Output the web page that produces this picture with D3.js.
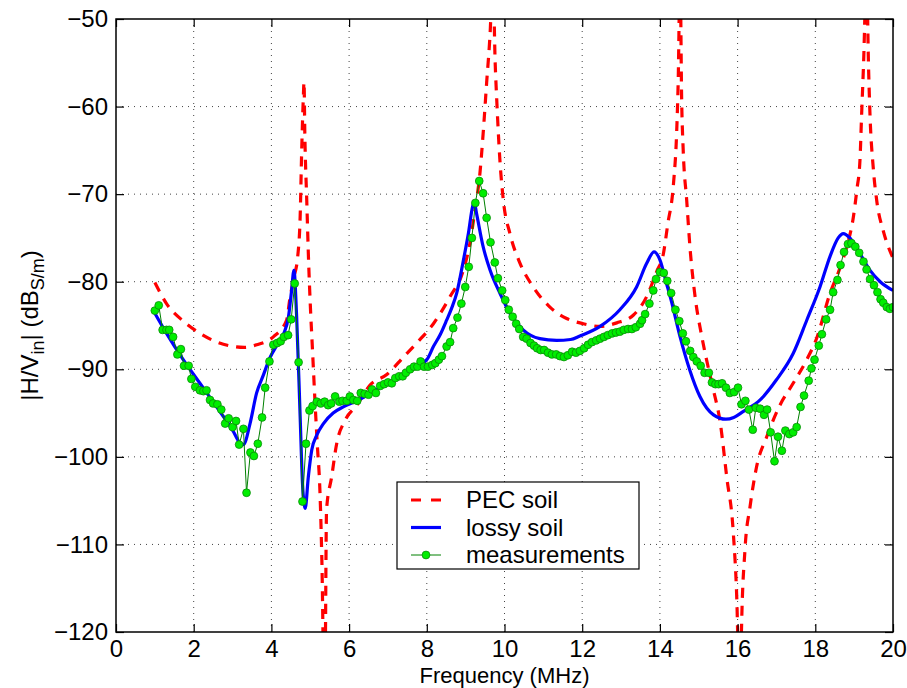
<!DOCTYPE html>
<html><head><meta charset="utf-8">
<script src="https://cdnjs.cloudflare.com/ajax/libs/d3/7.8.5/d3.min.js"></script>
<style>
body{margin:0;background:#fff}
text{font-family:"Liberation Sans",Arial,Helvetica,sans-serif;fill:#000}
</style>
</head><body>
<svg id="chart" width="907" height="688"></svg>
<script>
// ---------- data ----------
const xTicks = [0,2,4,6,8,10,12,14,16,18,20];
const yTicks = [-120,-110,-100,-90,-80,-70,-60,-50];
const seriesNames = ["PEC soil","lossy soil","measurements"];

// PEC soil (red dashed)
const pecFreq = [1.0,1.3,1.73,2.16,2.6,3.02,3.3,3.62,4.05,4.39,4.48,4.58,4.68,4.74,4.78,4.82,4.84,4.86,4.91,4.96,5.0,5.06,5.12,5.18,5.25,5.30,5.37,5.42,5.55,5.68,5.9,6.2,6.54,6.97,7.40,7.74,8.17,8.6,8.94,9.11,9.24,9.37,9.45,9.54,9.63,9.70,9.76,9.8,9.88,9.97,10.14,10.4,10.74,11.17,11.6,12.03,12.46,12.89,13.32,13.66,13.92,14.09,14.2,14.35,14.43,14.47,14.52,14.56,14.6,14.69,14.78,14.9,15.08,15.2,15.38,15.55,15.72,15.89,15.98,16.06,16.1,16.19,16.32,16.49,16.75,17.09,17.43,17.78,18.04,18.38,18.63,18.81,18.98,19.07,19.15,19.19,19.24,19.32,19.37,19.41,19.49,19.58,19.75,19.97,20.0];
const pecDb = [-80.1,-82.5,-84.5,-85.9,-86.9,-87.4,-87.5,-87.2,-86.3,-84.4,-81.8,-79.5,-77.0,-72.6,-65.0,-59.2,-57.2,-63.0,-70.7,-78.0,-82.5,-88.0,-93.5,-98.5,-104.0,-112.0,-130,-106.0,-102.3,-98.5,-95.8,-94.1,-91.8,-90.6,-88.6,-87.0,-84.8,-81.7,-78.7,-75.6,-71.8,-67.5,-63.1,-57.3,-51.6,-45,-55,-59.2,-66.0,-70.7,-74.5,-77.9,-80.6,-82.9,-84.2,-84.8,-85.1,-84.7,-83.8,-81.7,-78.8,-76.8,-73.5,-68.8,-63.1,-57.3,-45,-59.2,-65.0,-70.7,-76.4,-81.5,-86.3,-88.9,-92.4,-96.0,-102.3,-108.7,-116.3,-130,-119.8,-110.6,-105.7,-101.1,-97.7,-94.1,-91.6,-88.9,-86.4,-81.3,-78.5,-76.0,-72.6,-69.5,-66.1,-61.2,-55.4,-45,-55.4,-61.2,-66.9,-70.7,-74.2,-77.0,-77.3];

// lossy soil (blue solid)
const lossyFreq = [1.0,1.3,1.73,2.16,2.59,3.02,3.19,3.28,3.45,3.62,3.79,3.96,4.15,4.31,4.44,4.52,4.58,4.65,4.74,4.80,4.87,4.95,5.04,5.17,5.34,5.59,5.85,6.2,6.6,7.0,7.31,7.6,8.0,8.17,8.35,8.51,8.65,8.77,8.94,9.07,9.18,9.22,9.28,9.45,9.63,9.88,10.14,10.48,10.91,11.34,11.7,11.94,12.46,12.97,13.40,13.66,13.85,14.0,14.17,14.30,14.52,14.77,15.03,15.38,15.70,15.9,16.15,16.58,17.0,17.43,17.78,18.12,18.38,18.59,18.72,18.89,19.15,19.41,19.67,20.0];
const lossyDb = [-83.6,-85.9,-88.9,-91.6,-94.3,-97.1,-98.4,-98.6,-96.2,-92.7,-90.7,-88.7,-87.2,-86.0,-84.0,-81.0,-78.7,-84.0,-95.4,-103.0,-105.9,-102.3,-99.2,-97.5,-96.2,-95.0,-94.3,-93.6,-92.6,-91.6,-90.8,-89.9,-88.9,-87.4,-86.0,-84.4,-82.9,-81.3,-77.6,-74.5,-71.4,-70.9,-72.2,-76.0,-78.7,-81.3,-83.6,-85.5,-86.5,-86.7,-86.6,-86.2,-85.1,-83.2,-80.6,-77.9,-76.6,-77.5,-80.2,-82.3,-86.3,-90.1,-93.1,-95.2,-95.7,-95.5,-94.8,-93.5,-91.2,-88.2,-84.4,-80.6,-77.1,-75.0,-74.5,-75.0,-76.8,-78.7,-80.0,-81.0];

// measurements (green markers)
const measFreq = [1.00,1.10,1.20,1.30,1.37,1.47,1.58,1.67,1.75,1.87,1.94,2.04,2.16,2.25,2.33,2.42,2.50,2.61,2.71,2.81,2.90,3.00,3.09,3.17,3.28,3.36,3.46,3.55,3.65,3.76,3.84,3.95,4.05,4.15,4.24,4.32,4.43,4.51,4.60,4.70,4.80,4.89,4.98,5.06,5.17,5.27,5.37,5.46,5.54,5.64,5.75,5.83,5.94,6.02,6.11,6.21,6.30,6.40,6.50,6.59,6.69,6.80,6.90,7.00,7.10,7.19,7.29,7.38,7.46,7.57,7.67,7.76,7.84,7.93,8.03,8.14,8.22,8.31,8.39,8.51,8.60,8.68,8.79,8.89,8.99,9.08,9.16,9.25,9.35,9.45,9.54,9.64,9.75,9.83,9.94,10.02,10.11,10.21,10.30,10.38,10.48,10.57,10.67,10.76,10.84,10.93,11.02,11.12,11.22,11.33,11.43,11.53,11.63,11.74,11.84,11.94,12.05,12.15,12.25,12.36,12.46,12.56,12.66,12.77,12.87,12.97,13.07,13.18,13.28,13.38,13.49,13.54,13.62,13.73,13.83,13.90,14.00,14.10,14.19,14.29,14.40,14.50,14.59,14.67,14.78,14.86,14.95,15.05,15.15,15.26,15.34,15.43,15.51,15.60,15.70,15.80,15.91,16.01,16.10,16.20,16.29,16.39,16.47,16.58,16.68,16.76,16.85,16.95,17.04,17.14,17.23,17.33,17.43,17.52,17.62,17.71,17.83,17.90,17.98,18.09,18.17,18.28,18.38,18.46,18.57,18.65,18.74,18.84,18.93,19.03,19.13,19.24,19.32,19.41,19.51,19.60,19.68,19.75,19.84,19.92,20.00];
const measDb = [-83.3,-82.7,-85.5,-85.5,-85.5,-86.3,-88.3,-87.7,-89.6,-89.6,-91.1,-92.0,-92.4,-92.5,-92.4,-93.5,-93.9,-94.0,-94.6,-96.2,-95.6,-96.6,-95.9,-98.6,-96.8,-104.1,-99.5,-99.9,-98.5,-95.5,-92.1,-89.1,-87.2,-87.0,-86.8,-86.3,-86.1,-84.3,-80.2,-89.2,-105.1,-98.5,-94.7,-94.2,-93.7,-93.9,-93.7,-94.1,-93.9,-93.1,-93.7,-93.6,-93.6,-93.1,-93.5,-93.6,-92.7,-92.8,-92.9,-92.3,-92.7,-91.9,-91.7,-91.5,-91.6,-91.0,-90.8,-90.8,-90.4,-90.0,-89.7,-89.7,-89.1,-89.7,-89.7,-89.5,-89.3,-88.9,-88.5,-87.4,-86.9,-85.3,-84.1,-82.5,-80.6,-78.3,-75.0,-71.0,-68.5,-69.9,-72.7,-75.5,-77.8,-79.6,-81.0,-82.1,-83.2,-84.0,-84.8,-85.4,-86.3,-86.5,-87.0,-87.3,-87.6,-87.8,-87.8,-88.1,-88.3,-88.3,-88.5,-88.6,-88.4,-88.0,-88.1,-87.9,-87.6,-87.2,-86.9,-86.7,-86.5,-86.3,-86.1,-85.9,-85.8,-85.7,-85.5,-85.4,-85.4,-85.2,-84.8,-84.4,-83.7,-82.5,-81.0,-79.7,-78.9,-79.0,-79.9,-81.3,-83.2,-84.5,-85.9,-86.8,-87.9,-88.6,-89.1,-89.6,-90.4,-90.4,-91.5,-91.7,-91.7,-91.6,-92.1,-92.7,-92.6,-92.1,-94.0,-93.6,-94.6,-96.9,-94.4,-94.5,-95.2,-94.6,-97.2,-100.5,-97.7,-99.3,-97.0,-97.4,-97.2,-96.6,-94.3,-93.0,-91.3,-89.9,-88.9,-87.3,-86.0,-84.3,-83.2,-81.2,-79.8,-78.1,-76.6,-75.7,-75.6,-76.0,-76.7,-77.7,-78.6,-79.7,-80.4,-81.2,-82.0,-82.4,-82.9,-83.1,-82.9];

// ---------- layout ----------
const W = 907, H = 688;
const m = {left:116, right:893, top:19, bottom:632};
const FONT = 24;

const svg = d3.select("#chart");
const x = d3.scaleLinear().domain([0,20]).range([m.left, m.right]);
const y = d3.scaleLinear().domain([-120,-50]).range([m.bottom, m.top]);

svg.append("defs").append("clipPath").attr("id","plotclip")
  .append("rect").attr("x",m.left).attr("y",m.top)
  .attr("width",m.right-m.left).attr("height",m.bottom-m.top);

// grid
const grid = svg.append("g");
grid.selectAll(".gx").data(xTicks.slice(1,-1)).enter().append("line")
  .attr("x1",d=>x(d)).attr("x2",d=>x(d)).attr("y1",m.top).attr("y2",m.bottom)
  .attr("stroke","#444").attr("stroke-width",1).attr("stroke-dasharray","1,5");
grid.selectAll(".gy").data(yTicks.slice(1,-1)).enter().append("line")
  .attr("y1",d=>y(d)).attr("y2",d=>y(d)).attr("x1",m.left).attr("x2",m.right)
  .attr("stroke","#444").attr("stroke-width",1).attr("stroke-dasharray","1,5");

// data
const plot = svg.append("g").attr("clip-path","url(#plotclip)");
const pec = pecFreq.map((f,i)=>[f,pecDb[i]]);
const lossy = lossyFreq.map((f,i)=>[f,lossyDb[i]]);
const meas = measFreq.map((f,i)=>[f,measDb[i]]);

const smooth = d3.line().x(d=>x(d[0])).y(d=>y(d[1])).curve(d3.curveMonotoneX);
const straight = d3.line().x(d=>x(d[0])).y(d=>y(d[1]));

plot.append("path").attr("d",smooth(pec)).attr("fill","none")
  .attr("stroke","#ff0000").attr("stroke-width",3.2).attr("stroke-dasharray","10,8");
plot.append("path").attr("d",smooth(lossy)).attr("fill","none")
  .attr("stroke","#0000ff").attr("stroke-width",3.2);
plot.append("path").attr("d",straight(meas)).attr("fill","none")
  .attr("stroke","#008000").attr("stroke-width",1);
plot.selectAll(".mk").data(meas).enter().append("circle")
  .attr("cx",d=>x(d[0])).attr("cy",d=>y(d[1])).attr("r",3.9)
  .attr("fill","#00ee00").attr("stroke","#0a8a0a").attr("stroke-width",0.8);

// axes box + ticks (inward, all sides)
const ax = svg.append("g");
const tl = 8;
const axB = d3.axisBottom(x).tickValues(xTicks).tickSize(-tl).tickPadding(8).tickFormat(d3.format("d"));
const axT = d3.axisTop(x).tickValues(xTicks).tickSize(-tl).tickFormat("");
const fmtY = d => (d<0?"\u2212":"") + Math.abs(d);
const axL = d3.axisLeft(y).tickValues(yTicks).tickSize(-tl).tickPadding(8).tickFormat(fmtY);
const axR = d3.axisRight(y).tickValues(yTicks).tickSize(-tl).tickFormat("");
[[axB,`translate(0,${m.bottom})`],[axT,`translate(0,${m.top})`],[axL,`translate(${m.left},0)`],[axR,`translate(${m.right},0)`]]
  .forEach(([a,t])=>{
    const g = ax.append("g").attr("transform",t).call(a);
    g.select(".domain").remove();
    g.selectAll("line").attr("stroke","#000").attr("stroke-width",1.2);
    g.selectAll("text").style("font-size",FONT+"px").attr("fill","#000")
      .style("font-family",'"Liberation Sans",Arial,sans-serif');
  });
ax.append("rect").attr("x",m.left).attr("y",m.top).attr("width",m.right-m.left)
  .attr("height",m.bottom-m.top).attr("fill","none").attr("stroke","#000").attr("stroke-width",1.5);

// axis labels
svg.append("text").attr("x",(m.left+m.right)/2).attr("y",683).attr("text-anchor","middle")
  .style("font-size","22px").text("Frequency (MHz)");

const yl = svg.append("text").attr("transform",`translate(38,${(m.top+m.bottom)/2}) rotate(-90)`)
  .attr("text-anchor","middle").style("font-size",FONT+"px");
yl.append("tspan").text("|H/V");
yl.append("tspan").attr("dy",6).style("font-size","18px").text("in");
yl.append("tspan").attr("dy",-6).text("| (dB");
yl.append("tspan").attr("dy",6).style("font-size","18px").text("S/m");
yl.append("tspan").attr("dy",-6).text(")");

// legend
const lg = svg.append("g");
const lx = 397, ly = 482, lw = 242, lh = 87;
lg.append("rect").attr("x",lx).attr("y",ly).attr("width",lw).attr("height",lh)
  .attr("fill","#fff").attr("stroke","#000").attr("stroke-width",1.2);
const rows = [500, 527.5, 555];
const styles = [
  {stroke:"#ff0000", dash:"10,10", w:3.2},
  {stroke:"#0000ff", dash:null, w:3.2},
  {stroke:"#008000", dash:null, w:1}
];
seriesNames.forEach((name,i)=>{
  const s = styles[i];
  const ln = lg.append("line").attr("x1",411).attr("x2",441).attr("y1",rows[i]).attr("y2",rows[i])
    .attr("stroke",s.stroke).attr("stroke-width",s.w);
  if (s.dash) ln.attr("stroke-dasharray",s.dash);
  if (i===2) lg.append("circle").attr("cx",426).attr("cy",rows[i]).attr("r",3.9)
    .attr("fill","#00ee00").attr("stroke","#0a8a0a").attr("stroke-width",0.8);
  lg.append("text").attr("x",466).attr("y",rows[i]).attr("dy","0.35em")
    .style("font-size",FONT+"px").text(name);
});
</script>
</body></html>
